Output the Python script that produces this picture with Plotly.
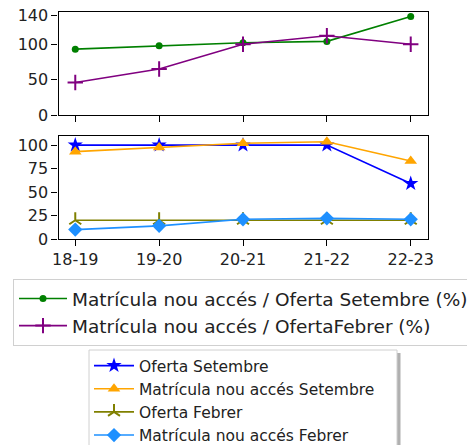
import plotly.graph_objects as go

cursos = ["18-19", "19-20", "20-21", "21-22", "22-23"]
ratio_setembre = [93, 98, 102, 104, 139]
ratio_febrer = [46, 65, 100, 112, 100]
oferta_setembre = [100, 100, 100, 100, 59]
matricula_setembre = [93, 97.5, 102, 103.5, 83]
oferta_febrer = [20, 20, 20, 20, 20]
matricula_febrer = [10, 14, 21, 22, 21]

W, H = 467, 445
FONT = "DejaVu Sans"

def px_x(v):
    return v / W

def px_y(v):
    return 1 - v / H

fig = go.Figure()

LW = 1.6
# top panel
fig.add_trace(go.Scatter(x=cursos, y=ratio_setembre, mode="lines+markers",
                         name="Matrícula nou accés / Oferta Setembre (%)",
                         line=dict(color="green", width=LW),
                         marker=dict(symbol="circle", size=7, color="green"),
                         xaxis="x", yaxis="y", legend="legend"))
fig.add_trace(go.Scatter(x=cursos, y=ratio_febrer, mode="lines+markers",
                         name="Matrícula nou accés / OfertaFebrer (%)",
                         line=dict(color="purple", width=LW),
                         marker=dict(symbol="cross-thin", size=11, color="purple",
                                     line=dict(color="purple", width=2)),
                         xaxis="x", yaxis="y", legend="legend"))
# bottom panel
fig.add_trace(go.Scatter(x=cursos, y=oferta_setembre, mode="lines+markers",
                         name="Oferta Setembre",
                         line=dict(color="blue", width=LW),
                         marker=dict(symbol="star", size=11.5, color="blue"),
                         xaxis="x2", yaxis="y2", legend="legend2"))
fig.add_trace(go.Scatter(x=cursos, y=matricula_setembre, mode="lines+markers",
                         name="Matrícula nou accés Setembre",
                         line=dict(color="orange", width=LW),
                         marker=dict(symbol="triangle-up", size=11, color="orange"),
                         xaxis="x2", yaxis="y2", legend="legend2"))
fig.add_trace(go.Scatter(x=cursos, y=oferta_febrer, mode="lines+markers",
                         name="Oferta Febrer",
                         line=dict(color="olive", width=LW),
                         marker=dict(symbol="y-up", size=10, color="olive",
                                     line=dict(color="olive", width=2)),
                         xaxis="x2", yaxis="y2", legend="legend2"))
fig.add_trace(go.Scatter(x=cursos, y=matricula_febrer, mode="lines+markers",
                         name="Matrícula nou accés Febrer",
                         line=dict(color="dodgerblue", width=LW),
                         marker=dict(symbol="diamond", size=11, color="dodgerblue"),
                         xaxis="x2", yaxis="y2", legend="legend2"))

xdom = [px_x(58.5), px_x(427.5)]
axis_common = dict(showline=True, linecolor="black", linewidth=1.2, mirror=True,
                   ticks="outside", ticklen=6, tickwidth=1.1, tickcolor="black",
                   showgrid=False, zeroline=False, automargin=False,
                   tickfont=dict(family=FONT, size=16, color="#222"))

fig.update_layout(
    template="none",
    width=W, height=H,
    margin=dict(l=0, r=0, t=0, b=0, autoexpand=False),
    paper_bgcolor="white", plot_bgcolor="white",
    font=dict(family=FONT, color="#222"),
    showlegend=True,
    xaxis=dict(domain=xdom, anchor="y", type="category", range=[-0.2, 4.2],
               showticklabels=False, **axis_common),
    yaxis=dict(domain=[px_y(115), px_y(12)], anchor="x", range=[0, 145.5],
               tickvals=[0, 50, 100, 140], **axis_common),
    xaxis2=dict(domain=xdom, anchor="y2", type="category", range=[-0.2, 4.2],
                **axis_common),
    yaxis2=dict(domain=[px_y(239), px_y(135.7)], anchor="x2", range=[0, 110],
                tickvals=[0, 25, 50, 75, 100], **axis_common),
    legend=dict(x=px_x(13), y=px_y(279), xanchor="left", yanchor="top",
                bgcolor="white", bordercolor="#d0d0d0", borderwidth=1,
                font=dict(family=FONT, size=18.5, color="#222"),
                itemwidth=48, tracegroupgap=0),
    legend2=dict(x=px_x(89), y=px_y(349), xanchor="left", yanchor="top",
                 bgcolor="rgba(0,0,0,0)", borderwidth=0,
                 font=dict(family=FONT, size=15.5, color="#222"),
                 itemwidth=40, tracegroupgap=0),
    shapes=[
        dict(type="rect", xref="paper", yref="paper",
             x0=px_x(92), x1=px_x(400.5), y0=px_y(470), y1=px_y(353),
             fillcolor="#b0b0b0", line=dict(width=0), layer="below"),
        dict(type="rect", xref="paper", yref="paper",
             x0=px_x(89), x1=px_x(397), y0=px_y(470), y1=px_y(350),
             fillcolor="white", line=dict(color="#d0d0d0", width=1), layer="below"),
    ],
)

fig.write_html("out.html", config={"displayModeBar": False},
               post_script="document.body.style.margin='0px';document.body.style.overflow='hidden';")
